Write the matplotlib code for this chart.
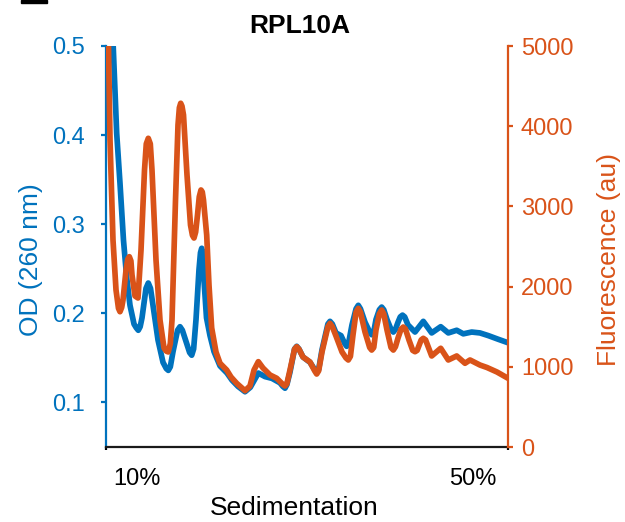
import matplotlib
matplotlib.use("Agg")
import matplotlib.pyplot as plt
from matplotlib.patches import Rectangle

plt.rcParams["font.family"] = ["Liberation Sans", "DejaVu Sans"]

BLUE = "#0072BD"
ORANGE = "#D95319"

# gradient position (0 = top of gradient, 100 = bottom)
od_pos = [0.5, 1.8, 2.66, 3.48, 4.35, 5.15, 5.97, 6.97, 7.5, 8.03, 8.5, 8.96,
          9.95, 10.52, 11.07, 11.69, 12.94, 14.18, 15.0, 15.5, 16.0, 16.67,
          17.8, 18.41, 19.0, 19.65, 20.8, 21.32, 21.8, 22.39,
          23.13, 23.5, 23.81, 24.1, 24.38, 25.0, 25.87, 26.87, 28.36, 30.1,
          31.34, 32.84, 34.58, 35.9, 37.89, 39.55, 41.29, 43.28, 44.0, 44.53, 45.0, 45.77,
          46.9, 47.44, 48.0, 49.0, 50.75, 51.9, 52.41, 52.9, 53.73,
          55.2, 55.72, 56.3, 57.21, 58.46, 59.4, 59.88, 60.4, 61.19,
          62.2, 62.76, 63.3, 64.43, 65.6, 66.09, 66.6, 67.16, 68.0, 68.58, 69.1,
          69.9, 70.9, 71.47, 72.0, 72.64, 73.2, 73.76, 74.3, 75.12,
          76.87, 78.93, 81.02, 83.26, 85.15, 87.24, 88.88, 90.97, 93.03, 95.1,
          97.5, 100.0]
od_260 = [0.574, 0.499, 0.402, 0.346, 0.282, 0.240, 0.209, 0.188, 0.184, 0.181, 0.185, 0.195,
          0.228, 0.234, 0.228, 0.209, 0.170, 0.145, 0.138, 0.136, 0.140, 0.157,
          0.181, 0.185, 0.181, 0.172, 0.156, 0.153, 0.160, 0.193,
          0.249, 0.268, 0.273, 0.264, 0.237, 0.195, 0.175, 0.157, 0.141, 0.133,
          0.125, 0.118, 0.112, 0.117, 0.133, 0.129, 0.127, 0.122, 0.118, 0.116, 0.120, 0.134,
          0.160, 0.163, 0.160, 0.151, 0.145, 0.137, 0.134, 0.137, 0.159,
          0.188, 0.191, 0.188, 0.178, 0.175, 0.166, 0.163, 0.168, 0.187,
          0.205, 0.209, 0.205, 0.190, 0.179, 0.176, 0.179, 0.193, 0.204, 0.207, 0.204,
          0.193, 0.182, 0.179, 0.182, 0.190, 0.196, 0.198, 0.196, 0.187,
          0.179, 0.191, 0.178, 0.185, 0.178, 0.181, 0.177, 0.179, 0.178, 0.175,
          0.171, 0.167]

fl_pos = [0.0, 0.62, 1.0, 1.74, 2.49, 3.1, 3.48, 3.9, 4.23, 4.98, 5.4, 5.8, 6.2, 6.47,
          7.21, 7.96, 8.71, 9.58, 10.02, 10.52, 11.02, 11.44, 12.44, 13.43, 14.43,
          15.0, 15.5, 16.0, 16.42, 17.29, 17.91, 18.25, 18.58, 18.9, 19.28, 20.15,
          21.02, 21.5, 21.89, 22.3, 22.76, 23.2, 23.63, 23.95, 24.25, 25.05, 25.62,
          26.29, 27.36, 28.36, 30.02, 31.09, 32.51, 34.58, 35.82, 36.82, 37.89,
          39.05, 40.8, 42.46, 44.0, 44.53, 45.0, 45.77, 46.9, 47.44, 48.0, 49.0,
          50.75, 51.9, 52.41, 52.9, 53.73, 55.2, 55.72, 56.3, 57.21, 58.71,
          59.7, 60.27, 60.8, 61.44, 62.2, 62.76, 63.3, 64.43, 65.6, 66.09, 66.6,
          67.16, 68.0, 68.58, 69.1, 69.9, 70.9, 71.47, 72.0, 72.64, 73.4, 73.96,
          74.5, 75.37, 76.3, 76.87, 77.4, 78.4, 78.93, 79.5, 81.02, 83.26, 85.15,
          87.24, 89.3, 90.55, 93.03, 94.78, 97.26, 100.0]
fluor = [5449, 5000, 3828, 2581, 1958, 1730, 1687, 1740, 1833, 2207, 2340, 2373, 2320, 2145,
         1883, 1858, 2456, 3454, 3780, 3849, 3780, 3454, 2332, 1584, 1234,
         1195, 1185, 1290, 1584, 3080, 4015, 4230, 4286, 4250, 4140, 3392,
         2768, 2640, 2606, 2680, 2893, 3120, 3205, 3180, 3080, 2643, 2020,
         1484, 1185, 1044, 960, 873, 794, 702, 761, 960, 1064,
         985, 898, 857, 780, 761, 790, 960, 1220, 1251, 1220, 1122,
         1060, 950, 910, 950, 1185, 1500, 1542, 1500, 1384, 1185,
         1110, 1085, 1130, 1397, 1680, 1729, 1680, 1434, 1240, 1209, 1240,
         1459, 1660, 1708, 1660, 1459, 1240, 1209, 1250, 1359, 1470, 1496,
         1470, 1334, 1205, 1188, 1205, 1335, 1355, 1335, 1135, 1231, 1085,
         1135, 1044, 1085, 1022, 991, 935, 857]

tick_pos = [7.64, 91.17]
tick_labels = ["10%", "50%"]

fig = plt.figure(figsize=(6.25, 5.22), dpi=100)
ax = fig.add_axes([106 / 625, 75 / 522, 402 / 625, 401 / 522])
ax2 = ax.twinx()

line_kw = dict(linewidth=4.1, solid_joinstyle="round", solid_capstyle="round")
ax.plot(od_pos, od_260, color=BLUE, **line_kw)
ax2.plot(fl_pos, fluor, color=ORANGE, **line_kw)

ax.set_xlim(0, 100)
ax.set_ylim(0.05, 0.5)
ax2.set_ylim(0, 5000)
ax.set_yticks([0.1, 0.2, 0.3, 0.4, 0.5])
ax2.set_yticks([0, 1000, 2000, 3000, 4000, 5000])

# spines
for s in ("top", "right"):
    ax.spines[s].set_visible(False)
for s in ("top", "left", "bottom"):
    ax2.spines[s].set_visible(False)
ax.spines["left"].set_color(BLUE)
ax.spines["left"].set_linewidth(1.6)
ax.spines["bottom"].set_color("0.1")
ax.spines["bottom"].set_linewidth(1.6)
ax2.spines["right"].set_color(ORANGE)
ax2.spines["right"].set_linewidth(1.6)

ax.tick_params(axis="y", colors=BLUE, labelsize=17, length=3.3, width=1.6,
               direction="out", pad=11.8)
ax2.tick_params(axis="y", colors=ORANGE, labelsize=17, length=3.3, width=1.6,
                direction="out", pad=6.0)

ax.set_xticks(tick_pos)
ax.set_xticklabels(tick_labels)
ax.set_xticks([0, 100], minor=True)
ax.tick_params(axis="x", which="major", length=0, labelsize=17, pad=15)
ax.tick_params(axis="x", which="minor", length=2.5, width=1.6, color="black",
               direction="out")

ax.set_ylabel("OD (260 nm)", color=BLUE, fontsize=19)
ax.yaxis.set_label_coords(-0.156, 0.4676)
ax2.set_ylabel("Fluorescence (au)", color=ORANGE, fontsize=19)
ax2.yaxis.set_label_coords(1.221, 0.4676)
ax.set_xlabel("Sedimentation", fontsize=19)
ax.xaxis.set_label_coords(0.469, -0.122)

fig.text(300 / 625, 1 - 33 / 522, "RPL10A", fontsize=19, fontweight="bold",
         ha="center", va="baseline")

# clipped panel letter remnant in the top-left corner
fig.patches.append(Rectangle((21 / 625, 1 - 3 / 522), 26 / 625, 3 / 522,
                             transform=fig.transFigure, color="black"))

fig.savefig("out.png", dpi=100)
